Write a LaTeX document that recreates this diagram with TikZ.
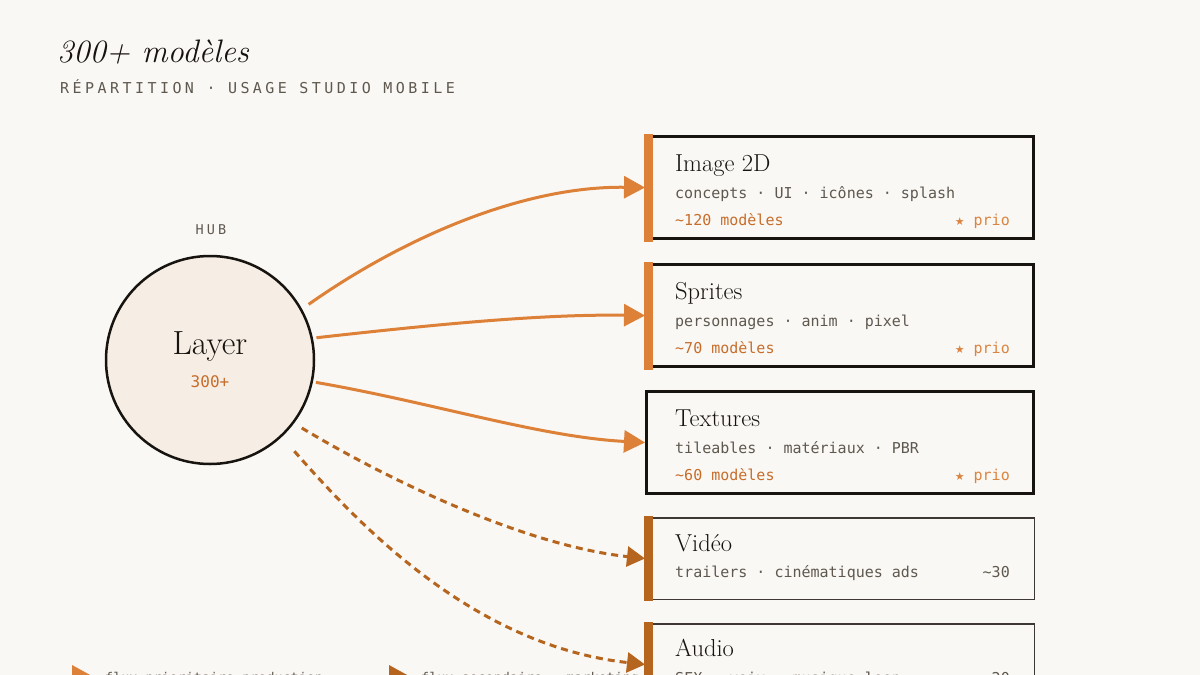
\documentclass[tikz,border=0pt]{standalone}
\usepackage{fontspec}
\usetikzlibrary{arrows.meta}
\newfontfamily\monof{DejaVu Sans Mono}
\newfontfamily\monosp{DejaVu Sans Mono}[LetterSpace=23]
\newfontfamily\symf{DejaVu Sans}
\definecolor{bg}{HTML}{FAF8F4}
\definecolor{ink}{HTML}{17130F}
\definecolor{ink2}{HTML}{3D3833}
\definecolor{txtgray}{HTML}{5E584F}
\definecolor{orA}{HTML}{DD8038}
\definecolor{orB}{HTML}{B5651E}
\definecolor{orT}{HTML}{C76D2C}
\definecolor{orP}{HTML}{DB8440}
\definecolor{hubfill}{HTML}{F6EEE5}
\tikzset{
  boxmain/.style={draw=ink, line width=3pt, fill=bg, minimum width=387pt, minimum height=102pt, inner sep=0pt},
  boxsec/.style={draw=ink2, line width=1.5pt, fill=bg, minimum width=388.5pt, minimum height=81.5pt, inner sep=0pt},
  btitle/.style={anchor=base west, inner sep=0pt, text=ink, font=\fontsize{24.5}{24.5}\selectfont},
  bsub/.style={anchor=base west, inner sep=0pt, text=txtgray, font=\monof\fontsize{15}{15}\selectfont},
  bcount/.style={anchor=base west, inner sep=0pt, text=orT, font=\monof\fontsize{15}{15}\selectfont},
  bprio/.style={anchor=base east, inner sep=0pt, text=orP, font=\monof\fontsize{15}{15}\selectfont},
  bnum/.style={anchor=base east, inner sep=0pt, text=txtgray, font=\monof\fontsize{15}{15}\selectfont},
  flowA/.style={draw=orA, line width=3pt, -{Triangle[length=21pt,width=22pt]}},
  flowB/.style={draw=orB, line width=3pt, dash pattern=on 7pt off 5pt, -{Triangle[length=18pt,width=20pt]}},
  legtxt/.style={anchor=base west, inner sep=0pt, text=txtgray, font=\monof\fontsize{13.4}{13.4}\selectfont}
}
\begin{document}
\begin{tikzpicture}[x=1pt,y=-1pt]
\useasboundingbox (0,0) rectangle (1200,675);
\fill[bg] (0,0) rectangle (1200,675);
\clip (0,0) rectangle (1200,675);

% header
\node[anchor=base west, inner sep=0pt, text=ink, font=\fontsize{32.5}{32.5}\selectfont\itshape] (title) at (57,62) {300+ modèles};
\node[anchor=base west, inner sep=0pt, text=txtgray, font=\monosp\fontsize{15}{15}\selectfont] (subtitle) at (60,93) {RÉPARTITION · USAGE STUDIO MOBILE};

% hub
\node[anchor=base, inner sep=0pt, text=txtgray, font=\monosp\fontsize{13.5}{13.5}\selectfont] (hublabel) at (211,234) {HUB};
\node[circle, draw=ink, line width=2.5pt, fill=hubfill, minimum size=208pt, inner sep=0pt] (hub) at (210,360) {};
\node[anchor=base, inner sep=0pt, text=ink, font=\fontsize{33.5}{33.5}\selectfont] (hubname) at (210,354) {Layer};
\node[anchor=base, inner sep=0pt, text=orT, font=\monof\fontsize{16}{16}\selectfont] (hubcount) at (210,387) {300+};

% boxes
\node[boxmain] (b1) at (840,187.5) {};
\fill[orA] ([xshift=-1.5pt,yshift=1.5pt]b1.north west) rectangle ([xshift=8pt,yshift=-1.5pt]b1.south west);
\node[btitle] (b1t) at (675,171) {Image 2D};
\node[bsub] (b1s) at (675,198) {concepts · UI · icônes · splash};
\node[bcount] (b1c) at (675,225) {\char`~120 modèles};
\node[bprio] (b1p) at (1010,225) {{\symf\fontsize{11}{11}\selectfont ★} prio};

\node[boxmain] (b2) at (840,315.5) {};
\fill[orA] ([xshift=-1.5pt,yshift=1.5pt]b2.north west) rectangle ([xshift=8pt,yshift=-1.5pt]b2.south west);
\node[btitle] (b2t) at (675,299) {Sprites};
\node[bsub] (b2s) at (675,326) {personnages · anim · pixel};
\node[bcount] (b2c) at (675,353) {\char`~70 modèles};
\node[bprio] (b2p) at (1010,353) {{\symf\fontsize{11}{11}\selectfont ★} prio};

\node[boxmain] (b3) at (840,442.5) {};
\node[btitle] (b3t) at (675,426) {Textures};
\node[bsub] (b3s) at (675,453) {tileables · matériaux · PBR};
\node[bcount] (b3c) at (675,480) {\char`~60 modèles};
\node[bprio] (b3p) at (1010,480) {{\symf\fontsize{11}{11}\selectfont ★} prio};

\node[boxsec] (b4) at (840,558.5) {};
\fill[orB] ([xshift=-0.75pt,yshift=0.75pt]b4.north west) rectangle ([xshift=8pt,yshift=-0.75pt]b4.south west);
\node[btitle] (b4t) at (675,551) {Vidéo};
\node[bsub] (b4s) at (675,577) {trailers · cinématiques ads};
\node[bnum] (b4n) at (1010,577) {\char`~30};

\node[boxsec] (b5) at (840,664.5) {};
\fill[orB] ([xshift=-0.75pt,yshift=0.75pt]b5.north west) rectangle ([xshift=8pt,yshift=-0.75pt]b5.south west);
\node[btitle] (b5t) at (675,656) {Audio};
\node[bsub] (b5s) at (675,683) {SFX · voix · musique loop};
\node[bnum] (b5n) at (1010,683) {\char`~20};

% flows
\draw[flowA, shorten <=8pt] (hub.29) .. controls (400,240) and (520,186) .. (b1.west);
\draw[flowA, shorten <=3.5pt] (hub.12) .. controls (430,325) and (540,314) .. (b2.west);
\draw[flowA, shorten <=3pt] (hub.-12) .. controls (430,402) and (540,437) .. (b3.west);
\draw[flowB, shorten <=9pt] (hub.-37) .. controls (380,475) and (520,545) .. (b4.west);
\draw[flowB, shorten <=19pt] (hub.-47) .. controls (355,520) and (470,645) .. (b5.west);

% legend
\fill[orA] (72,665) -- (92,676) -- (72,687) -- cycle;
\node[legtxt] (leg1) at (105,682) {flux prioritaire production};
\fill[orB] (389,665) -- (409,676) -- (389,687) -- cycle;
\node[legtxt] (leg2) at (421,682) {flux secondaire · marketing};
\end{tikzpicture}
\end{document}
